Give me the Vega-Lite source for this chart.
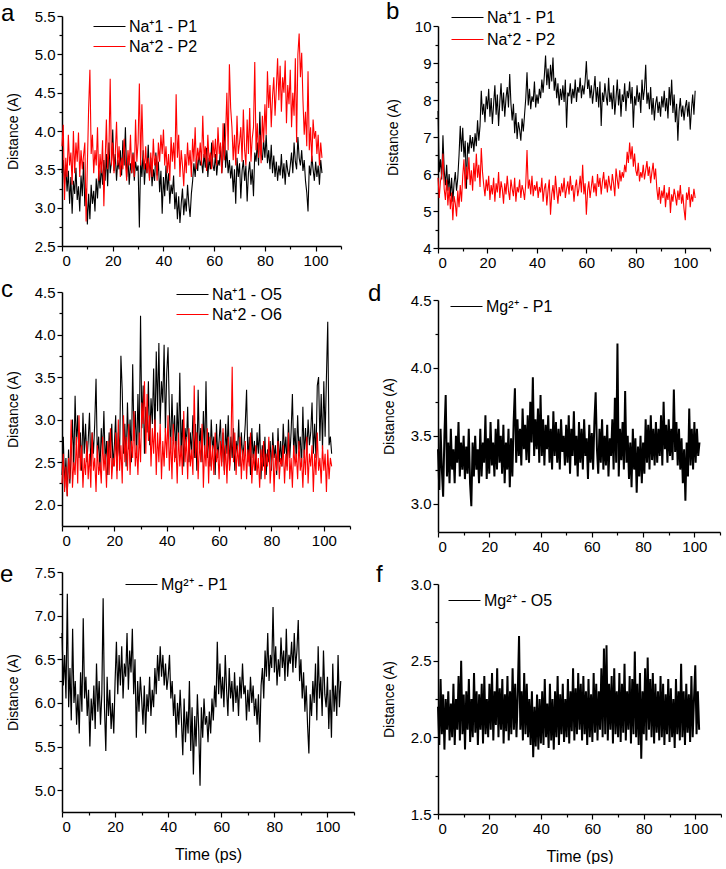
{
"$schema":"https://vega.github.io/schema/vega-lite/v6.json",
"padding":{"left":0,"top":0,"right":0,"bottom":0},
"config":{
 "font":"Liberation Sans",
 "view":{"stroke":null},
 "axis":{"grid":false,"domainColor":"#000","domainWidth":1.5,"tickColor":"#000","tickWidth":1.2,"labelColor":"#000","titleColor":"#000","labelFont":"Liberation Sans","titleFont":"Liberation Sans","labelFontSize":15,"titleFontWeight":"normal","labelPadding":2},
 "legend":{"symbolType":"M-2,0H2","symbolStrokeWidth":1,"symbolSize":256,"labelFontSize":16,"labelFont":"Liberation Sans","labelColor":"#000","padding":0,"rowPadding":3,"labelOffset":11},
 "title":{"anchor":"start","frame":"group","fontSize":24,"fontWeight":"normal","font":"Liberation Sans","color":"#000","offset":0,"baseline":"alphabetic"}
},
"datasets":{
"a1":[{"t":0,"d":3.45},{"t":0.5,"d":3.62},{"t":1,"d":3.30},{"t":1.5,"d":3.55},{"t":2,"d":3.21},{"t":2.5,"d":3.48},{"t":3,"d":3.05},{"t":3.5,"d":3.40},{"t":4,"d":2.92},{"t":4.5,"d":3.35},
{"t":5,"d":3.18},{"t":5.5,"d":3.52},{"t":6,"d":3.10},{"t":6.5,"d":3.28},{"t":7,"d":2.95},{"t":7.5,"d":3.42},{"t":8,"d":3.15},{"t":8.5,"d":3.60},{"t":9,"d":3.02},{"t":9.5,"d":3.25},
{"t":10,"d":2.78},{"t":10.5,"d":3.18},{"t":11,"d":2.85},{"t":11.5,"d":3.30},{"t":12,"d":3.05},{"t":12.5,"d":3.22},{"t":13,"d":2.95},{"t":13.5,"d":3.38},{"t":14,"d":3.12},{"t":14.5,"d":3.48},
{"t":15,"d":3.25},{"t":15.5,"d":3.55},{"t":16,"d":3.30},{"t":16.5,"d":3.62},{"t":17,"d":3.35},{"t":17.5,"d":3.70},{"t":18,"d":3.28},{"t":18.5,"d":3.85},{"t":19,"d":3.45},{"t":19.5,"d":3.60},
{"t":20,"d":4.02},{"t":20.5,"d":3.48},{"t":21,"d":3.70},{"t":21.5,"d":3.35},{"t":22,"d":3.62},{"t":22.5,"d":3.50},{"t":23,"d":3.75},{"t":23.5,"d":3.42},{"t":24,"d":3.88},{"t":24.5,"d":3.55},
{"t":25,"d":4.05},{"t":25.5,"d":3.40},{"t":26,"d":3.65},{"t":26.5,"d":3.30},{"t":27,"d":3.58},{"t":27.5,"d":3.45},{"t":28,"d":3.72},{"t":28.5,"d":3.35},{"t":29,"d":3.60},{"t":29.5,"d":3.48},
{"t":30,"d":3.55},{"t":30.5,"d":2.74},{"t":31,"d":3.62},{"t":31.5,"d":3.40},{"t":32,"d":3.75},{"t":32.5,"d":3.30},{"t":33,"d":3.58},{"t":33.5,"d":3.45},{"t":34,"d":3.82},{"t":34.5,"d":3.38},
{"t":35,"d":3.65},{"t":35.5,"d":3.28},{"t":36,"d":3.50},{"t":36.5,"d":3.35},{"t":37,"d":3.72},{"t":37.5,"d":3.42},{"t":38,"d":3.60},{"t":38.5,"d":3.20},{"t":39,"d":3.48},{"t":39.5,"d":2.92},
{"t":40,"d":3.40},{"t":40.5,"d":3.15},{"t":41,"d":3.55},{"t":41.5,"d":3.22},{"t":42,"d":3.45},{"t":42.5,"d":3.05},{"t":43,"d":3.30},{"t":43.5,"d":3.18},{"t":44,"d":3.42},{"t":44.5,"d":2.98},
{"t":45,"d":3.20},{"t":45.5,"d":2.85},{"t":46,"d":3.15},{"t":46.5,"d":2.80},{"t":47,"d":3.05},{"t":47.5,"d":3.25},{"t":48,"d":2.90},{"t":48.5,"d":3.12},{"t":49,"d":2.95},{"t":49.5,"d":3.30},
{"t":50,"d":3.05},{"t":50.5,"d":2.88},{"t":51,"d":3.18},{"t":51.5,"d":3.35},{"t":52,"d":3.58},{"t":52.5,"d":3.40},{"t":53,"d":3.65},{"t":53.5,"d":3.48},{"t":54,"d":3.72},{"t":54.5,"d":3.55},
{"t":55,"d":3.62},{"t":55.5,"d":3.45},{"t":56,"d":3.70},{"t":56.5,"d":3.52},{"t":57,"d":3.78},{"t":57.5,"d":3.40},{"t":58,"d":3.65},{"t":58.5,"d":3.50},{"t":59,"d":3.85},{"t":59.5,"d":3.55},
{"t":60,"d":3.48},{"t":60.5,"d":3.70},{"t":61,"d":3.42},{"t":61.5,"d":3.62},{"t":62,"d":3.55},{"t":62.5,"d":3.80},{"t":63,"d":3.45},{"t":63.5,"d":3.68},{"t":64,"d":4.10},{"t":64.5,"d":3.52},
{"t":65,"d":3.75},{"t":65.5,"d":3.45},{"t":66,"d":3.62},{"t":66.5,"d":3.38},{"t":67,"d":3.55},{"t":67.5,"d":3.20},{"t":68,"d":3.50},{"t":68.5,"d":3.05},{"t":69,"d":3.65},{"t":69.5,"d":3.40},
{"t":70,"d":3.58},{"t":70.5,"d":3.12},{"t":71,"d":3.48},{"t":71.5,"d":3.62},{"t":72,"d":3.35},{"t":72.5,"d":3.55},{"t":73,"d":3.08},{"t":73.5,"d":3.45},{"t":74,"d":3.60},{"t":74.5,"d":3.30},
{"t":75,"d":3.50},{"t":75.5,"d":3.15},{"t":76,"d":3.72},{"t":76.5,"d":3.60},{"t":77,"d":3.85},{"t":77.5,"d":3.55},{"t":78,"d":4.25},{"t":78.5,"d":3.70},{"t":79,"d":3.62},{"t":79.5,"d":3.88},
{"t":80,"d":3.65},{"t":80.5,"d":3.95},{"t":81,"d":3.58},{"t":81.5,"d":3.75},{"t":82,"d":3.50},{"t":82.5,"d":3.82},{"t":83,"d":3.45},{"t":83.5,"d":3.68},{"t":84,"d":3.40},{"t":84.5,"d":3.60},
{"t":85,"d":3.35},{"t":85.5,"d":3.55},{"t":86,"d":3.42},{"t":86.5,"d":3.70},{"t":87,"d":3.38},{"t":87.5,"d":3.58},{"t":88,"d":3.30},{"t":88.5,"d":3.62},{"t":89,"d":3.48},{"t":89.5,"d":3.40},
{"t":90,"d":3.55},{"t":90.5,"d":3.72},{"t":91,"d":3.45},{"t":91.5,"d":3.85},{"t":92,"d":3.60},{"t":92.5,"d":3.50},{"t":93,"d":3.92},{"t":93.5,"d":3.65},{"t":94,"d":3.55},{"t":94.5,"d":3.75},
{"t":95,"d":3.48},{"t":95.5,"d":3.62},{"t":96,"d":3.35},{"t":96.5,"d":3.20},{"t":97,"d":2.95},{"t":97.5,"d":3.55},{"t":98,"d":3.42},{"t":98.5,"d":3.68},{"t":99,"d":3.50},{"t":99.5,"d":3.35},
{"t":100,"d":3.60},{"t":100.5,"d":3.40},{"t":101,"d":3.55},{"t":101.5,"d":3.30},{"t":102,"d":3.62},{"t":102.5,"d":3.45}],
"a2":[{"t":0,"d":3.80},{"t":0.5,"d":4.08},{"t":1,"d":3.10},{"t":1.5,"d":3.65},{"t":2,"d":3.40},{"t":2.5,"d":3.95},{"t":3,"d":3.55},{"t":3.5,"d":3.72},{"t":4,"d":3.30},{"t":4.5,"d":4.00},
{"t":5,"d":3.45},{"t":5.5,"d":3.85},{"t":6,"d":3.60},{"t":6.5,"d":3.98},{"t":7,"d":3.40},{"t":7.5,"d":3.75},{"t":8,"d":3.50},{"t":8.5,"d":3.68},{"t":9,"d":3.85},{"t":9.5,"d":2.82},
{"t":10,"d":3.55},{"t":10.5,"d":4.30},{"t":11,"d":4.80},{"t":11.5,"d":3.70},{"t":12,"d":3.95},{"t":12.5,"d":3.45},{"t":13,"d":3.75},{"t":13.5,"d":3.55},{"t":14,"d":4.05},{"t":14.5,"d":3.35},
{"t":15,"d":3.70},{"t":15.5,"d":3.45},{"t":16,"d":3.88},{"t":16.5,"d":3.02},{"t":17,"d":3.60},{"t":17.5,"d":4.15},{"t":18,"d":3.50},{"t":18.5,"d":3.75},{"t":19,"d":4.68},{"t":19.5,"d":3.55},
{"t":20,"d":3.85},{"t":20.5,"d":3.45},{"t":21,"d":3.70},{"t":21.5,"d":4.12},{"t":22,"d":3.55},{"t":22.5,"d":3.80},{"t":23,"d":3.40},{"t":23.5,"d":3.65},{"t":24,"d":3.50},{"t":24.5,"d":3.90},
{"t":25,"d":3.60},{"t":25.5,"d":3.35},{"t":26,"d":3.75},{"t":26.5,"d":3.55},{"t":27,"d":3.95},{"t":27.5,"d":3.45},{"t":28,"d":3.70},{"t":28.5,"d":3.40},{"t":29,"d":4.15},{"t":29.5,"d":3.60},
{"t":30,"d":3.85},{"t":30.5,"d":4.62},{"t":31,"d":3.55},{"t":31.5,"d":4.35},{"t":32,"d":3.70},{"t":32.5,"d":3.50},{"t":33,"d":3.80},{"t":33.5,"d":3.45},{"t":34,"d":3.65},{"t":34.5,"d":3.35},
{"t":35,"d":3.72},{"t":35.5,"d":3.40},{"t":36,"d":3.90},{"t":36.5,"d":3.55},{"t":37,"d":3.68},{"t":37.5,"d":3.35},{"t":38,"d":3.85},{"t":38.5,"d":3.60},{"t":39,"d":3.95},{"t":39.5,"d":3.70},
{"t":40,"d":4.02},{"t":40.5,"d":3.55},{"t":41,"d":3.80},{"t":41.5,"d":3.45},{"t":42,"d":3.70},{"t":42.5,"d":3.35},{"t":43,"d":3.92},{"t":43.5,"d":3.60},{"t":44,"d":3.85},{"t":44.5,"d":3.50},
{"t":45,"d":4.48},{"t":45.5,"d":3.65},{"t":46,"d":3.95},{"t":46.5,"d":3.40},{"t":47,"d":3.75},{"t":47.5,"d":3.55},{"t":48,"d":3.28},{"t":48.5,"d":3.70},{"t":49,"d":3.45},{"t":49.5,"d":3.85},
{"t":50,"d":3.55},{"t":50.5,"d":3.75},{"t":51,"d":3.40},{"t":51.5,"d":3.90},{"t":52,"d":3.60},{"t":52.5,"d":4.05},{"t":53,"d":3.50},{"t":53.5,"d":3.78},{"t":54,"d":3.62},{"t":54.5,"d":3.85},
{"t":55,"d":3.55},{"t":55.5,"d":4.20},{"t":56,"d":3.65},{"t":56.5,"d":3.80},{"t":57,"d":3.48},{"t":57.5,"d":3.95},{"t":58,"d":3.60},{"t":58.5,"d":3.72},{"t":59,"d":3.50},{"t":59.5,"d":3.88},
{"t":60,"d":3.65},{"t":60.5,"d":3.90},{"t":61,"d":3.55},{"t":61.5,"d":4.05},{"t":62,"d":3.70},{"t":62.5,"d":3.85},{"t":63,"d":3.45},{"t":63.5,"d":4.10},{"t":64,"d":3.62},{"t":64.5,"d":3.95},
{"t":65,"d":4.50},{"t":65.5,"d":3.75},{"t":66,"d":4.87},{"t":66.5,"d":4.30},{"t":67,"d":4.05},{"t":67.5,"d":3.62},{"t":68,"d":3.95},{"t":68.5,"d":3.55},{"t":69,"d":4.20},{"t":69.5,"d":3.70},
{"t":70,"d":3.85},{"t":70.5,"d":4.05},{"t":71,"d":3.60},{"t":71.5,"d":4.28},{"t":72,"d":3.75},{"t":72.5,"d":3.55},{"t":73,"d":4.15},{"t":73.5,"d":3.70},{"t":74,"d":4.30},{"t":74.5,"d":3.60},
{"t":75,"d":3.90},{"t":75.5,"d":4.05},{"t":76,"d":4.90},{"t":76.5,"d":3.75},{"t":77,"d":4.10},{"t":77.5,"d":3.65},{"t":78,"d":3.95},{"t":78.5,"d":3.58},{"t":79,"d":4.20},{"t":79.5,"d":3.85},
{"t":80,"d":4.35},{"t":80.5,"d":3.95},{"t":81,"d":4.78},{"t":81.5,"d":4.30},{"t":82,"d":4.60},{"t":82.5,"d":4.05},{"t":83,"d":4.45},{"t":83.5,"d":4.70},{"t":84,"d":4.20},{"t":84.5,"d":4.55},
{"t":85,"d":4.95},{"t":85.5,"d":4.40},{"t":86,"d":4.85},{"t":86.5,"d":4.25},{"t":87,"d":4.70},{"t":87.5,"d":4.50},{"t":88,"d":4.92},{"t":88.5,"d":4.10},{"t":89,"d":4.60},{"t":89.5,"d":4.35},
{"t":90,"d":4.80},{"t":90.5,"d":4.05},{"t":91,"d":4.50},{"t":91.5,"d":4.20},{"t":92,"d":4.95},{"t":92.5,"d":3.85},{"t":93,"d":5.00},{"t":93.5,"d":5.27},{"t":94,"d":4.70},{"t":94.5,"d":5.02},
{"t":95,"d":4.40},{"t":95.5,"d":3.95},{"t":96,"d":4.25},{"t":96.5,"d":3.80},{"t":97,"d":4.78},{"t":97.5,"d":3.75},{"t":98,"d":4.05},{"t":98.5,"d":3.60},{"t":99,"d":4.15},{"t":99.5,"d":3.90},
{"t":100,"d":4.00},{"t":100.5,"d":3.70},{"t":101,"d":3.95},{"t":101.5,"d":3.55},{"t":102,"d":3.85},{"t":102.5,"d":3.65}],
"b1":[{"t":0,"d":7.70},{"t":0.5,"d":6.05},{"t":1,"d":6.40},{"t":1.5,"d":5.85},{"t":2,"d":7.05},{"t":2.5,"d":6.10},{"t":3,"d":5.70},{"t":3.5,"d":6.25},{"t":4,"d":5.55},{"t":4.5,"d":6.00},
{"t":5,"d":5.40},{"t":5.5,"d":5.90},{"t":6,"d":5.25},{"t":6.5,"d":5.75},{"t":7,"d":6.05},{"t":7.5,"d":5.55},{"t":8,"d":5.90},{"t":8.5,"d":6.50},{"t":9,"d":7.30},{"t":9.5,"d":6.60},
{"t":10,"d":7.25},{"t":10.5,"d":6.45},{"t":11,"d":6.90},{"t":11.5,"d":5.60},{"t":12,"d":6.85},{"t":12.5,"d":6.55},{"t":13,"d":7.05},{"t":13.5,"d":6.70},{"t":14,"d":7.00},{"t":14.5,"d":6.60},
{"t":15,"d":7.10},{"t":15.5,"d":6.75},{"t":16,"d":7.45},{"t":16.5,"d":6.90},{"t":17,"d":7.30},{"t":17.5,"d":8.25},{"t":18,"d":7.60},{"t":18.5,"d":7.90},{"t":19,"d":7.40},{"t":19.5,"d":8.10},
{"t":20,"d":7.75},{"t":20.5,"d":8.30},{"t":21,"d":7.55},{"t":21.5,"d":8.05},{"t":22,"d":7.35},{"t":22.5,"d":7.90},{"t":23,"d":8.40},{"t":23.5,"d":7.60},{"t":24,"d":8.15},{"t":24.5,"d":7.30},
{"t":25,"d":7.95},{"t":25.5,"d":8.45},{"t":26,"d":7.70},{"t":26.5,"d":8.20},{"t":27,"d":7.55},{"t":27.5,"d":8.05},{"t":28,"d":8.35},{"t":28.5,"d":7.80},{"t":29,"d":8.70},{"t":29.5,"d":7.90},
{"t":30,"d":7.45},{"t":30.5,"d":7.90},{"t":31,"d":7.10},{"t":31.5,"d":7.65},{"t":32,"d":6.95},{"t":32.5,"d":7.40},{"t":33,"d":7.20},{"t":33.5,"d":6.90},{"t":34,"d":7.50},{"t":34.5,"d":7.15},
{"t":35,"d":7.60},{"t":35.5,"d":8.05},{"t":36,"d":8.75},{"t":36.5,"d":7.85},{"t":37,"d":8.30},{"t":37.5,"d":7.75},{"t":38,"d":8.10},{"t":38.5,"d":7.95},{"t":39,"d":8.50},{"t":39.5,"d":7.80},
{"t":40,"d":8.15},{"t":40.5,"d":7.90},{"t":41,"d":8.30},{"t":41.5,"d":8.05},{"t":42,"d":8.55},{"t":42.5,"d":8.20},{"t":43,"d":8.65},{"t":43.5,"d":9.20},{"t":44,"d":8.40},{"t":44.5,"d":8.85},
{"t":45,"d":8.30},{"t":45.5,"d":8.95},{"t":46,"d":8.50},{"t":46.5,"d":9.15},{"t":47,"d":8.25},{"t":47.5,"d":8.60},{"t":48,"d":8.05},{"t":48.5,"d":8.45},{"t":49,"d":7.85},{"t":49.5,"d":8.30},
{"t":50,"d":8.00},{"t":50.5,"d":8.40},{"t":51,"d":7.95},{"t":51.5,"d":8.55},{"t":52,"d":7.25},{"t":52.5,"d":8.20},{"t":53,"d":8.10},{"t":53.5,"d":8.45},{"t":54,"d":7.90},{"t":54.5,"d":8.30},
{"t":55,"d":8.05},{"t":55.5,"d":8.55},{"t":56,"d":7.95},{"t":56.5,"d":8.35},{"t":57,"d":8.20},{"t":57.5,"d":8.60},{"t":58,"d":8.05},{"t":58.5,"d":8.40},{"t":59,"d":8.15},{"t":59.5,"d":8.50},
{"t":60,"d":9.05},{"t":60.5,"d":8.30},{"t":61,"d":8.55},{"t":61.5,"d":8.05},{"t":62,"d":8.40},{"t":62.5,"d":7.90},{"t":63,"d":8.25},{"t":63.5,"d":8.65},{"t":64,"d":7.95},{"t":64.5,"d":8.35},
{"t":65,"d":7.80},{"t":65.5,"d":8.50},{"t":66,"d":7.30},{"t":66.5,"d":8.20},{"t":67,"d":7.95},{"t":67.5,"d":8.45},{"t":68,"d":8.10},{"t":68.5,"d":7.85},{"t":69,"d":8.60},{"t":69.5,"d":7.95},
{"t":70,"d":8.20},{"t":70.5,"d":7.75},{"t":71,"d":8.40},{"t":71.5,"d":7.60},{"t":72,"d":8.05},{"t":72.5,"d":8.55},{"t":73,"d":7.85},{"t":73.5,"d":8.30},{"t":74,"d":7.55},{"t":74.5,"d":8.15},
{"t":75,"d":7.95},{"t":75.5,"d":8.45},{"t":76,"d":7.70},{"t":76.5,"d":8.25},{"t":77,"d":8.05},{"t":77.5,"d":8.50},{"t":78,"d":7.90},{"t":78.5,"d":8.35},{"t":79,"d":7.25},{"t":79.5,"d":8.10},
{"t":80,"d":7.85},{"t":80.5,"d":8.40},{"t":81,"d":7.95},{"t":81.5,"d":8.20},{"t":82,"d":7.65},{"t":82.5,"d":8.55},{"t":83,"d":8.00},{"t":83.5,"d":8.30},{"t":84,"d":8.95},{"t":84.5,"d":7.90},
{"t":85,"d":8.20},{"t":85.5,"d":7.75},{"t":86,"d":8.35},{"t":86.5,"d":7.60},{"t":87,"d":8.05},{"t":87.5,"d":7.45},{"t":88,"d":7.90},{"t":88.5,"d":8.10},{"t":89,"d":7.65},{"t":89.5,"d":7.95},
{"t":90,"d":7.55},{"t":90.5,"d":8.10},{"t":91,"d":7.80},{"t":91.5,"d":8.25},{"t":92,"d":7.70},{"t":92.5,"d":8.05},{"t":93,"d":7.50},{"t":93.5,"d":8.35},{"t":94,"d":7.85},{"t":94.5,"d":8.55},
{"t":95,"d":7.65},{"t":95.5,"d":8.15},{"t":96,"d":7.40},{"t":96.5,"d":7.90},{"t":97,"d":6.90},{"t":97.5,"d":7.70},{"t":98,"d":8.05},{"t":98.5,"d":7.55},{"t":99,"d":7.85},{"t":99.5,"d":7.45},
{"t":100,"d":7.80},{"t":100.5,"d":8.00},{"t":101,"d":7.55},{"t":101.5,"d":7.95},{"t":102,"d":7.20},{"t":102.5,"d":7.75},{"t":103,"d":8.15},{"t":103.5,"d":7.60},{"t":104,"d":8.25}],
"b2":[{"t":0,"d":5.90},{"t":0.5,"d":5.35},{"t":1,"d":5.80},{"t":1.5,"d":6.00},{"t":2,"d":6.55},{"t":2.5,"d":5.60},{"t":3,"d":5.30},{"t":3.5,"d":5.85},{"t":4,"d":5.15},{"t":4.5,"d":5.65},
{"t":5,"d":5.05},{"t":5.5,"d":5.50},{"t":6,"d":4.75},{"t":6.5,"d":5.40},{"t":7,"d":5.20},{"t":7.5,"d":4.85},{"t":8,"d":5.55},{"t":8.5,"d":5.10},{"t":9,"d":5.70},{"t":9.5,"d":5.25},
{"t":10,"d":5.95},{"t":10.5,"d":6.40},{"t":11,"d":5.60},{"t":11.5,"d":6.20},{"t":12,"d":5.85},{"t":12.5,"d":6.45},{"t":13,"d":5.70},{"t":13.5,"d":6.10},{"t":14,"d":5.55},{"t":14.5,"d":6.30},
{"t":15,"d":5.80},{"t":15.5,"d":6.55},{"t":16,"d":5.90},{"t":16.5,"d":6.25},{"t":17,"d":5.65},{"t":17.5,"d":6.70},{"t":18,"d":6.05},{"t":18.5,"d":5.70},{"t":19,"d":5.40},{"t":19.5,"d":5.85},
{"t":20,"d":5.55},{"t":20.5,"d":5.95},{"t":21,"d":5.30},{"t":21.5,"d":5.70},{"t":22,"d":5.45},{"t":22.5,"d":5.90},{"t":23,"d":5.25},{"t":23.5,"d":5.75},{"t":24,"d":5.50},{"t":24.5,"d":6.05},
{"t":25,"d":5.35},{"t":25.5,"d":5.80},{"t":26,"d":5.60},{"t":26.5,"d":5.20},{"t":27,"d":5.75},{"t":27.5,"d":5.45},{"t":28,"d":5.95},{"t":28.5,"d":5.55},{"t":29,"d":5.30},{"t":29.5,"d":5.85},
{"t":30,"d":5.60},{"t":30.5,"d":5.40},{"t":31,"d":5.90},{"t":31.5,"d":5.25},{"t":32,"d":5.65},{"t":32.5,"d":5.50},{"t":33,"d":5.85},{"t":33.5,"d":5.35},{"t":34,"d":5.70},{"t":34.5,"d":5.55},
{"t":35,"d":5.30},{"t":35.5,"d":5.75},{"t":36,"d":6.65},{"t":36.5,"d":5.60},{"t":37,"d":5.85},{"t":37.5,"d":5.45},{"t":38,"d":5.95},{"t":38.5,"d":5.40},{"t":39,"d":5.70},{"t":39.5,"d":5.55},
{"t":40,"d":5.80},{"t":40.5,"d":5.35},{"t":41,"d":5.65},{"t":41.5,"d":5.50},{"t":42,"d":5.90},{"t":42.5,"d":5.25},{"t":43,"d":5.60},{"t":43.5,"d":5.75},{"t":44,"d":5.15},{"t":44.5,"d":5.55},
{"t":45,"d":5.85},{"t":45.5,"d":4.90},{"t":46,"d":5.45},{"t":46.5,"d":5.70},{"t":47,"d":5.30},{"t":47.5,"d":5.95},{"t":48,"d":5.55},{"t":48.5,"d":5.20},{"t":49,"d":5.65},{"t":49.5,"d":5.40},
{"t":50,"d":5.75},{"t":50.5,"d":5.50},{"t":51,"d":5.90},{"t":51.5,"d":5.35},{"t":52,"d":5.60},{"t":52.5,"d":5.80},{"t":53,"d":5.45},{"t":53.5,"d":5.95},{"t":54,"d":5.55},{"t":54.5,"d":5.70},
{"t":55,"d":5.25},{"t":55.5,"d":5.65},{"t":56,"d":5.85},{"t":56.5,"d":5.40},{"t":57,"d":5.60},{"t":57.5,"d":5.95},{"t":58,"d":5.50},{"t":58.5,"d":6.25},{"t":59,"d":5.45},{"t":59.5,"d":5.75},
{"t":60,"d":4.90},{"t":60.5,"d":5.55},{"t":61,"d":5.80},{"t":61.5,"d":5.35},{"t":62,"d":5.65},{"t":62.5,"d":5.95},{"t":63,"d":5.50},{"t":63.5,"d":5.75},{"t":64,"d":5.40},{"t":64.5,"d":6.00},
{"t":65,"d":5.65},{"t":65.5,"d":5.90},{"t":66,"d":5.45},{"t":66.5,"d":5.80},{"t":67,"d":6.05},{"t":67.5,"d":5.60},{"t":68,"d":5.85},{"t":68.5,"d":5.50},{"t":69,"d":5.95},{"t":69.5,"d":5.70},
{"t":70,"d":5.55},{"t":70.5,"d":6.00},{"t":71,"d":5.75},{"t":71.5,"d":5.40},{"t":72,"d":6.15},{"t":72.5,"d":5.85},{"t":73,"d":5.60},{"t":73.5,"d":6.10},{"t":74,"d":5.80},{"t":74.5,"d":6.05},
{"t":75,"d":5.90},{"t":75.5,"d":6.25},{"t":76,"d":6.05},{"t":76.5,"d":6.60},{"t":77,"d":6.30},{"t":77.5,"d":6.85},{"t":78,"d":6.40},{"t":78.5,"d":6.75},{"t":79,"d":6.20},{"t":79.5,"d":6.55},
{"t":80,"d":6.10},{"t":80.5,"d":5.95},{"t":81,"d":6.30},{"t":81.5,"d":5.80},{"t":82,"d":6.05},{"t":82.5,"d":5.90},{"t":83,"d":6.25},{"t":83.5,"d":5.85},{"t":84,"d":6.10},{"t":84.5,"d":6.35},
{"t":85,"d":5.95},{"t":85.5,"d":6.20},{"t":86,"d":5.75},{"t":86.5,"d":6.05},{"t":87,"d":6.30},{"t":87.5,"d":5.85},{"t":88,"d":6.15},{"t":88.5,"d":5.60},{"t":89,"d":5.30},{"t":89.5,"d":5.65},
{"t":90,"d":5.20},{"t":90.5,"d":5.55},{"t":91,"d":5.35},{"t":91.5,"d":5.70},{"t":92,"d":5.10},{"t":92.5,"d":5.50},{"t":93,"d":5.30},{"t":93.5,"d":5.65},{"t":94,"d":4.95},{"t":94.5,"d":5.45},
{"t":95,"d":5.25},{"t":95.5,"d":5.60},{"t":96,"d":5.40},{"t":96.5,"d":5.15},{"t":97,"d":5.55},{"t":97.5,"d":5.30},{"t":98,"d":5.70},{"t":98.5,"d":5.20},{"t":99,"d":5.45},{"t":99.5,"d":5.05},
{"t":100,"d":4.75},{"t":100.5,"d":5.50},{"t":101,"d":5.30},{"t":101.5,"d":5.65},{"t":102,"d":5.10},{"t":102.5,"d":5.45},{"t":103,"d":5.25},{"t":103.5,"d":5.60},{"t":104,"d":5.35}],
"c1":[{"t":0,"d":2.35},{"t":0.5,"d":2.80},{"t":1,"d":2.20},{"t":1.5,"d":2.55},{"t":2,"d":2.10},{"t":2.5,"d":2.65},{"t":3,"d":2.25},{"t":3.5,"d":2.60},{"t":4,"d":3.00},{"t":4.5,"d":2.45},
{"t":5,"d":3.28},{"t":5.5,"d":2.70},{"t":6,"d":3.05},{"t":6.5,"d":2.55},{"t":7,"d":2.85},{"t":7.5,"d":2.40},{"t":8,"d":3.08},{"t":8.5,"d":2.60},{"t":9,"d":2.95},{"t":9.5,"d":2.50},
{"t":10,"d":2.75},{"t":10.5,"d":3.08},{"t":11,"d":2.45},{"t":11.5,"d":2.85},{"t":12,"d":2.60},{"t":12.5,"d":2.95},{"t":13,"d":3.48},{"t":13.5,"d":2.55},{"t":14,"d":2.80},{"t":14.5,"d":2.40},
{"t":15,"d":2.90},{"t":15.5,"d":2.60},{"t":16,"d":3.10},{"t":16.5,"d":2.50},{"t":17,"d":2.75},{"t":17.5,"d":2.35},{"t":18,"d":2.85},{"t":18.5,"d":2.55},{"t":19,"d":2.95},{"t":19.5,"d":2.45},
{"t":20,"d":2.70},{"t":20.5,"d":3.05},{"t":21,"d":2.40},{"t":21.5,"d":2.85},{"t":22,"d":2.55},{"t":22.5,"d":3.75},{"t":23,"d":3.35},{"t":23.5,"d":2.60},{"t":24,"d":2.95},{"t":24.5,"d":2.45},
{"t":25,"d":3.20},{"t":25.5,"d":2.65},{"t":26,"d":3.00},{"t":26.5,"d":2.50},{"t":27,"d":3.65},{"t":27.5,"d":2.75},{"t":28,"d":3.10},{"t":28.5,"d":2.55},{"t":29,"d":3.30},{"t":29.5,"d":2.70},
{"t":30,"d":4.22},{"t":30.5,"d":2.90},{"t":31,"d":3.40},{"t":31.5,"d":2.60},{"t":32,"d":3.15},{"t":32.5,"d":2.85},{"t":33,"d":3.45},{"t":33.5,"d":2.70},{"t":34,"d":3.25},{"t":34.5,"d":2.95},
{"t":35,"d":3.60},{"t":35.5,"d":2.80},{"t":36,"d":3.80},{"t":36.5,"d":3.10},{"t":37,"d":3.90},{"t":37.5,"d":2.95},{"t":38,"d":3.45},{"t":38.5,"d":3.20},{"t":39,"d":3.88},{"t":39.5,"d":2.85},
{"t":40,"d":3.55},{"t":40.5,"d":3.85},{"t":41,"d":3.10},{"t":41.5,"d":2.65},{"t":42,"d":3.30},{"t":42.5,"d":2.75},{"t":43,"d":3.05},{"t":43.5,"d":2.55},{"t":44,"d":3.20},{"t":44.5,"d":2.70},
{"t":45,"d":3.55},{"t":45.5,"d":2.60},{"t":46,"d":3.00},{"t":46.5,"d":2.45},{"t":47,"d":2.90},{"t":47.5,"d":2.70},{"t":48,"d":3.15},{"t":48.5,"d":2.50},{"t":49,"d":2.85},{"t":49.5,"d":2.60},
{"t":50,"d":3.05},{"t":50.5,"d":2.55},{"t":51,"d":2.95},{"t":51.5,"d":2.40},{"t":52,"d":3.35},{"t":52.5,"d":2.65},{"t":53,"d":2.90},{"t":53.5,"d":2.50},{"t":54,"d":3.10},{"t":54.5,"d":2.60},
{"t":55,"d":3.45},{"t":55.5,"d":2.55},{"t":56,"d":2.85},{"t":56.5,"d":2.45},{"t":57,"d":3.00},{"t":57.5,"d":2.65},{"t":58,"d":2.80},{"t":58.5,"d":2.35},{"t":59,"d":2.95},{"t":59.5,"d":2.55},
{"t":60,"d":2.75},{"t":60.5,"d":3.00},{"t":61,"d":2.50},{"t":61.5,"d":2.85},{"t":62,"d":2.40},{"t":62.5,"d":2.95},{"t":63,"d":2.60},{"t":63.5,"d":3.05},{"t":64,"d":2.45},{"t":64.5,"d":2.80},
{"t":65,"d":2.55},{"t":65.5,"d":2.90},{"t":66,"d":2.40},{"t":66.5,"d":2.75},{"t":67,"d":2.60},{"t":67.5,"d":3.00},{"t":68,"d":2.45},{"t":68.5,"d":2.85},{"t":69,"d":2.55},{"t":69.5,"d":2.70},
{"t":70,"d":2.95},{"t":70.5,"d":3.35},{"t":71,"d":2.50},{"t":71.5,"d":2.80},{"t":72,"d":2.35},{"t":72.5,"d":2.90},{"t":73,"d":2.55},{"t":73.5,"d":2.75},{"t":74,"d":2.40},{"t":74.5,"d":2.85},
{"t":75,"d":2.60},{"t":75.5,"d":2.95},{"t":76,"d":2.30},{"t":76.5,"d":2.70},{"t":77,"d":2.45},{"t":77.5,"d":2.80},{"t":78,"d":2.35},{"t":78.5,"d":2.65},{"t":79,"d":2.50},{"t":79.5,"d":2.75},
{"t":80,"d":2.40},{"t":80.5,"d":2.85},{"t":81,"d":2.55},{"t":81.5,"d":2.70},{"t":82,"d":2.35},{"t":82.5,"d":2.90},{"t":83,"d":2.50},{"t":83.5,"d":2.75},{"t":84,"d":2.45},{"t":84.5,"d":2.95},
{"t":85,"d":2.60},{"t":85.5,"d":2.80},{"t":86,"d":2.45},{"t":86.5,"d":3.00},{"t":87,"d":2.55},{"t":87.5,"d":2.85},{"t":88,"d":3.30},{"t":88.5,"d":2.60},{"t":89,"d":2.90},{"t":89.5,"d":2.50},
{"t":90,"d":3.05},{"t":90.5,"d":2.65},{"t":91,"d":2.80},{"t":91.5,"d":2.45},{"t":92,"d":3.15},{"t":92.5,"d":2.55},{"t":93,"d":2.90},{"t":93.5,"d":2.60},{"t":94,"d":3.00},{"t":94.5,"d":2.70},
{"t":95,"d":2.85},{"t":95.5,"d":3.20},{"t":96,"d":2.60},{"t":96.5,"d":2.95},{"t":97,"d":2.55},{"t":97.5,"d":3.40},{"t":98,"d":3.50},{"t":98.5,"d":2.75},{"t":99,"d":3.30},{"t":99.5,"d":2.65},
{"t":100,"d":3.45},{"t":100.5,"d":2.80},{"t":101,"d":3.50},{"t":101.5,"d":4.15},{"t":102,"d":2.70},{"t":102.5,"d":2.80},{"t":103,"d":2.60}],
"c2":[{"t":0,"d":2.25},{"t":0.5,"d":2.60},{"t":1,"d":2.15},{"t":1.5,"d":2.45},{"t":2,"d":2.10},{"t":2.5,"d":2.55},{"t":3,"d":2.30},{"t":3.5,"d":3.00},{"t":4,"d":2.20},{"t":4.5,"d":2.50},
{"t":5,"d":2.35},{"t":5.5,"d":2.80},{"t":6,"d":2.25},{"t":6.5,"d":3.05},{"t":7,"d":2.40},{"t":7.5,"d":2.70},{"t":8,"d":2.20},{"t":8.5,"d":2.55},{"t":9,"d":2.35},{"t":9.5,"d":2.75},
{"t":10,"d":2.30},{"t":10.5,"d":2.60},{"t":11,"d":2.20},{"t":11.5,"d":2.85},{"t":12,"d":2.40},{"t":12.5,"d":2.55},{"t":13,"d":2.15},{"t":13.5,"d":2.70},{"t":14,"d":2.35},{"t":14.5,"d":2.50},
{"t":15,"d":2.25},{"t":15.5,"d":2.80},{"t":16,"d":2.40},{"t":16.5,"d":2.60},{"t":17,"d":2.20},{"t":17.5,"d":2.75},{"t":18,"d":2.35},{"t":18.5,"d":2.90},{"t":19,"d":2.30},{"t":19.5,"d":2.55},
{"t":20,"d":2.45},{"t":20.5,"d":2.85},{"t":21,"d":2.30},{"t":21.5,"d":3.00},{"t":22,"d":2.40},{"t":22.5,"d":2.70},{"t":23,"d":2.25},{"t":23.5,"d":3.05},{"t":24,"d":2.50},{"t":24.5,"d":2.80},
{"t":25,"d":2.40},{"t":25.5,"d":2.95},{"t":26,"d":2.35},{"t":26.5,"d":2.75},{"t":27,"d":2.55},{"t":27.5,"d":3.10},{"t":28,"d":2.45},{"t":28.5,"d":2.70},{"t":29,"d":2.35},{"t":29.5,"d":2.85},
{"t":30,"d":2.50},{"t":30.5,"d":3.20},{"t":31,"d":2.95},{"t":31.5,"d":3.45},{"t":32,"d":2.60},{"t":32.5,"d":3.30},{"t":33,"d":2.75},{"t":33.5,"d":3.05},{"t":34,"d":2.45},{"t":34.5,"d":2.90},
{"t":35,"d":2.60},{"t":35.5,"d":3.00},{"t":36,"d":2.35},{"t":36.5,"d":2.85},{"t":37,"d":2.50},{"t":37.5,"d":2.95},{"t":38,"d":2.30},{"t":38.5,"d":2.75},{"t":39,"d":2.45},{"t":39.5,"d":2.90},
{"t":40,"d":2.55},{"t":40.5,"d":3.05},{"t":41,"d":2.40},{"t":41.5,"d":2.80},{"t":42,"d":2.30},{"t":42.5,"d":2.95},{"t":43,"d":2.50},{"t":43.5,"d":2.75},{"t":44,"d":2.25},{"t":44.5,"d":2.85},
{"t":45,"d":2.45},{"t":45.5,"d":2.70},{"t":46,"d":2.35},{"t":46.5,"d":3.10},{"t":47,"d":2.50},{"t":47.5,"d":2.80},{"t":48,"d":2.30},{"t":48.5,"d":2.90},{"t":49,"d":2.45},{"t":49.5,"d":2.65},
{"t":50,"d":2.35},{"t":50.5,"d":3.40},{"t":51,"d":2.55},{"t":51.5,"d":2.85},{"t":52,"d":2.30},{"t":52.5,"d":2.75},{"t":53,"d":2.50},{"t":53.5,"d":2.95},{"t":54,"d":2.20},{"t":54.5,"d":2.70},
{"t":55,"d":2.45},{"t":55.5,"d":2.90},{"t":56,"d":2.25},{"t":56.5,"d":2.80},{"t":57,"d":2.40},{"t":57.5,"d":2.70},{"t":58,"d":2.35},{"t":58.5,"d":2.85},{"t":59,"d":2.50},{"t":59.5,"d":2.65},
{"t":60,"d":2.30},{"t":60.5,"d":2.75},{"t":61,"d":2.45},{"t":61.5,"d":2.90},{"t":62,"d":2.35},{"t":62.5,"d":2.70},{"t":63,"d":2.25},{"t":63.5,"d":2.80},{"t":64,"d":2.40},{"t":64.5,"d":2.60},
{"t":65,"d":3.62},{"t":65.5,"d":2.50},{"t":66,"d":2.85},{"t":66.5,"d":2.35},{"t":67,"d":2.70},{"t":67.5,"d":2.45},{"t":68,"d":2.80},{"t":68.5,"d":2.30},{"t":69,"d":2.65},{"t":69.5,"d":2.40},
{"t":70,"d":2.75},{"t":70.5,"d":2.30},{"t":71,"d":2.65},{"t":71.5,"d":2.45},{"t":72,"d":2.85},{"t":72.5,"d":2.25},{"t":73,"d":2.60},{"t":73.5,"d":2.40},{"t":74,"d":2.70},{"t":74.5,"d":2.35},
{"t":75,"d":2.55},{"t":75.5,"d":2.20},{"t":76,"d":2.65},{"t":76.5,"d":2.40},{"t":77,"d":2.75},{"t":77.5,"d":2.30},{"t":78,"d":2.60},{"t":78.5,"d":2.45},{"t":79,"d":2.80},{"t":79.5,"d":2.25},
{"t":80,"d":2.50},{"t":80.5,"d":2.70},{"t":81,"d":2.15},{"t":81.5,"d":2.60},{"t":82,"d":2.40},{"t":82.5,"d":2.75},{"t":83,"d":2.30},{"t":83.5,"d":2.55},{"t":84,"d":2.45},{"t":84.5,"d":2.70},
{"t":85,"d":2.25},{"t":85.5,"d":2.60},{"t":86,"d":2.40},{"t":86.5,"d":2.85},{"t":87,"d":2.30},{"t":87.5,"d":2.55},{"t":88,"d":2.20},{"t":88.5,"d":2.70},{"t":89,"d":2.45},{"t":89.5,"d":2.60},
{"t":90,"d":2.30},{"t":90.5,"d":2.75},{"t":91,"d":2.40},{"t":91.5,"d":2.55},{"t":92,"d":2.20},{"t":92.5,"d":2.65},{"t":93,"d":2.35},{"t":93.5,"d":2.80},{"t":94,"d":2.25},{"t":94.5,"d":2.60},
{"t":95,"d":2.45},{"t":95.5,"d":2.70},{"t":96,"d":2.15},{"t":96.5,"d":2.60},{"t":97,"d":2.35},{"t":97.5,"d":2.85},{"t":98,"d":2.40},{"t":98.5,"d":2.55},{"t":99,"d":2.25},{"t":99.5,"d":2.70},
{"t":100,"d":2.40},{"t":100.5,"d":2.60},{"t":101,"d":2.15},{"t":101.5,"d":2.65},{"t":102,"d":2.30},{"t":102.5,"d":2.55},{"t":103,"d":2.45}],
"d1":[{"t":0,"d":3.40},{"t":0.5,"d":3.10},{"t":1,"d":3.55},{"t":1.5,"d":3.25},{"t":2,"d":3.05},{"t":2.5,"d":3.50},{"t":3,"d":3.80},{"t":3.5,"d":3.20},{"t":4,"d":3.45},{"t":4.5,"d":3.15},
{"t":5,"d":3.55},{"t":5.5,"d":3.25},{"t":6,"d":3.40},{"t":6.5,"d":3.15},{"t":7,"d":3.50},{"t":7.5,"d":3.30},{"t":8,"d":3.60},{"t":8.5,"d":3.20},{"t":9,"d":3.45},{"t":9.5,"d":3.25},
{"t":10,"d":3.50},{"t":10.5,"d":3.18},{"t":11,"d":3.42},{"t":11.5,"d":3.22},{"t":12,"d":3.55},{"t":12.5,"d":3.15},{"t":13,"d":2.98},{"t":13.5,"d":3.45},{"t":14,"d":3.20},{"t":14.5,"d":3.50},
{"t":15,"d":3.25},{"t":15.5,"d":3.40},{"t":16,"d":3.15},{"t":16.5,"d":3.55},{"t":17,"d":3.20},{"t":17.5,"d":3.45},{"t":18,"d":3.30},{"t":18.5,"d":3.65},{"t":19,"d":3.18},{"t":19.5,"d":3.48},
{"t":20,"d":3.22},{"t":20.5,"d":3.60},{"t":21,"d":3.28},{"t":21.5,"d":3.45},{"t":22,"d":3.20},{"t":22.5,"d":3.55},{"t":23,"d":3.25},{"t":23.5,"d":3.62},{"t":24,"d":3.30},{"t":24.5,"d":3.50},
{"t":25,"d":3.22},{"t":25.5,"d":3.58},{"t":26,"d":3.15},{"t":26.5,"d":3.45},{"t":27,"d":3.25},{"t":27.5,"d":3.55},{"t":28,"d":3.12},{"t":28.5,"d":3.48},{"t":29,"d":3.20},{"t":29.5,"d":3.60},
{"t":30,"d":3.85},{"t":30.5,"d":3.30},{"t":31,"d":3.62},{"t":31.5,"d":3.35},{"t":32,"d":3.55},{"t":32.5,"d":3.28},{"t":33,"d":3.70},{"t":33.5,"d":3.40},{"t":34,"d":3.58},{"t":34.5,"d":3.32},
{"t":35,"d":3.65},{"t":35.5,"d":3.30},{"t":36,"d":3.75},{"t":36.5,"d":3.45},{"t":37,"d":3.93},{"t":37.5,"d":3.35},{"t":38,"d":3.62},{"t":38.5,"d":3.40},{"t":39,"d":3.70},{"t":39.5,"d":3.30},
{"t":40,"d":3.80},{"t":40.5,"d":3.35},{"t":41,"d":3.62},{"t":41.5,"d":3.28},{"t":42,"d":3.58},{"t":42.5,"d":3.40},{"t":43,"d":3.65},{"t":43.5,"d":3.30},{"t":44,"d":3.55},{"t":44.5,"d":3.25},
{"t":45,"d":3.68},{"t":45.5,"d":3.35},{"t":46,"d":3.60},{"t":46.5,"d":3.30},{"t":47,"d":3.55},{"t":47.5,"d":3.25},{"t":48,"d":3.62},{"t":48.5,"d":3.38},{"t":49,"d":3.50},{"t":49.5,"d":3.28},
{"t":50,"d":3.58},{"t":50.5,"d":3.30},{"t":51,"d":3.65},{"t":51.5,"d":3.22},{"t":52,"d":3.55},{"t":52.5,"d":3.35},{"t":53,"d":3.68},{"t":53.5,"d":3.28},{"t":54,"d":3.50},{"t":54.5,"d":3.20},
{"t":55,"d":3.60},{"t":55.5,"d":3.30},{"t":56,"d":3.55},{"t":56.5,"d":3.25},{"t":57,"d":3.62},{"t":57.5,"d":3.35},{"t":58,"d":3.48},{"t":58.5,"d":3.18},{"t":59,"d":3.58},{"t":59.5,"d":3.30},
{"t":60,"d":3.52},{"t":60.5,"d":3.25},{"t":61,"d":3.60},{"t":61.5,"d":3.82},{"t":62,"d":3.40},{"t":62.5,"d":3.22},{"t":63,"d":3.55},{"t":63.5,"d":3.30},{"t":64,"d":3.62},{"t":64.5,"d":3.25},
{"t":65,"d":3.50},{"t":65.5,"d":3.28},{"t":66,"d":3.58},{"t":66.5,"d":3.20},{"t":67,"d":3.48},{"t":67.5,"d":3.35},{"t":68,"d":3.62},{"t":68.5,"d":3.25},{"t":69,"d":3.78},{"t":69.5,"d":3.30},
{"t":70,"d":4.18},{"t":70.5,"d":3.20},{"t":71,"d":3.55},{"t":71.5,"d":3.32},{"t":72,"d":3.60},{"t":72.5,"d":3.25},{"t":73,"d":3.83},{"t":73.5,"d":3.30},{"t":74,"d":3.50},{"t":74.5,"d":3.18},
{"t":75,"d":3.45},{"t":75.5,"d":3.12},{"t":76,"d":3.55},{"t":76.5,"d":3.25},{"t":77,"d":3.48},{"t":77.5,"d":3.08},{"t":78,"d":3.42},{"t":78.5,"d":3.20},{"t":79,"d":3.50},{"t":79.5,"d":3.15},
{"t":80,"d":3.45},{"t":80.5,"d":3.22},{"t":81,"d":3.62},{"t":81.5,"d":3.30},{"t":82,"d":3.58},{"t":82.5,"d":3.25},{"t":83,"d":3.65},{"t":83.5,"d":3.32},{"t":84,"d":3.55},{"t":84.5,"d":3.28},
{"t":85,"d":3.60},{"t":85.5,"d":3.30},{"t":86,"d":3.55},{"t":86.5,"d":3.35},{"t":87,"d":3.65},{"t":87.5,"d":3.28},{"t":88,"d":3.75},{"t":88.5,"d":3.40},{"t":89,"d":3.58},{"t":89.5,"d":3.30},
{"t":90,"d":3.62},{"t":90.5,"d":3.35},{"t":91,"d":3.55},{"t":91.5,"d":3.32},{"t":92,"d":3.84},{"t":92.5,"d":3.38},{"t":93,"d":3.60},{"t":93.5,"d":3.28},{"t":94,"d":3.55},{"t":94.5,"d":3.25},
{"t":95,"d":3.48},{"t":95.5,"d":3.15},{"t":96,"d":3.40},{"t":96.5,"d":3.02},{"t":97,"d":3.45},{"t":97.5,"d":3.20},{"t":98,"d":3.70},{"t":98.5,"d":3.28},{"t":99,"d":3.55},{"t":99.5,"d":3.25},
{"t":100,"d":3.60},{"t":100.5,"d":3.30},{"t":101,"d":3.55},{"t":101.5,"d":3.35},{"t":102,"d":3.45}],
"e1":[{"t":0,"d":6.80},{"t":0.5,"d":6.20},{"t":1,"d":6.55},{"t":1.5,"d":6.05},{"t":2,"d":7.25},{"t":2.5,"d":5.95},{"t":3,"d":6.40},{"t":3.5,"d":5.80},{"t":4,"d":6.85},{"t":4.5,"d":6.00},
{"t":5,"d":6.25},{"t":5.5,"d":5.75},{"t":6,"d":6.10},{"t":6.5,"d":5.65},{"t":7,"d":6.35},{"t":7.5,"d":5.90},{"t":8,"d":6.97},{"t":8.5,"d":6.05},{"t":9,"d":6.30},{"t":9.5,"d":5.85},
{"t":10,"d":6.15},{"t":10.5,"d":5.50},{"t":11,"d":6.05},{"t":11.5,"d":5.80},{"t":12,"d":6.20},{"t":12.5,"d":5.70},{"t":13,"d":6.45},{"t":13.5,"d":5.90},{"t":14,"d":6.25},{"t":14.5,"d":5.75},
{"t":15,"d":6.10},{"t":15.5,"d":7.20},{"t":16,"d":5.95},{"t":16.5,"d":5.45},{"t":17,"d":6.30},{"t":17.5,"d":5.85},{"t":18,"d":6.15},{"t":18.5,"d":5.70},{"t":19,"d":6.00},{"t":19.5,"d":5.65},
{"t":20,"d":6.25},{"t":20.5,"d":6.70},{"t":21,"d":6.10},{"t":21.5,"d":6.55},{"t":22,"d":6.20},{"t":22.5,"d":6.65},{"t":23,"d":6.05},{"t":23.5,"d":6.45},{"t":24,"d":6.30},{"t":24.5,"d":6.80},
{"t":25,"d":6.15},{"t":25.5,"d":6.60},{"t":26,"d":6.35},{"t":26.5,"d":6.85},{"t":27,"d":6.10},{"t":27.5,"d":6.50},{"t":28,"d":5.60},{"t":28.5,"d":6.25},{"t":29,"d":5.90},{"t":29.5,"d":6.30},
{"t":30,"d":6.05},{"t":30.5,"d":5.75},{"t":31,"d":6.20},{"t":31.5,"d":5.65},{"t":32,"d":6.10},{"t":32.5,"d":5.90},{"t":33,"d":6.30},{"t":33.5,"d":5.85},{"t":34,"d":6.15},{"t":34.5,"d":5.95},
{"t":35,"d":6.40},{"t":35.5,"d":6.10},{"t":36,"d":6.55},{"t":36.5,"d":6.25},{"t":37,"d":6.65},{"t":37.5,"d":6.30},{"t":38,"d":6.55},{"t":38.5,"d":6.20},{"t":39,"d":6.45},{"t":39.5,"d":6.15},
{"t":40,"d":6.30},{"t":40.5,"d":6.55},{"t":41,"d":6.05},{"t":41.5,"d":6.25},{"t":42,"d":5.85},{"t":42.5,"d":6.10},{"t":43,"d":5.60},{"t":43.5,"d":6.00},{"t":44,"d":5.75},{"t":44.5,"d":6.15},
{"t":45,"d":5.80},{"t":45.5,"d":5.40},{"t":46,"d":6.05},{"t":46.5,"d":5.55},{"t":47,"d":5.90},{"t":47.5,"d":5.65},{"t":48,"d":6.25},{"t":48.5,"d":5.45},{"t":49,"d":5.95},{"t":49.5,"d":5.18},
{"t":50,"d":5.85},{"t":50.5,"d":5.50},{"t":51,"d":6.10},{"t":51.5,"d":5.70},{"t":52,"d":5.05},{"t":52.5,"d":5.95},{"t":53,"d":5.60},{"t":53.5,"d":6.05},{"t":54,"d":5.75},{"t":54.5,"d":5.85},
{"t":55,"d":5.55},{"t":55.5,"d":5.90},{"t":56,"d":5.65},{"t":56.5,"d":6.05},{"t":57,"d":5.80},{"t":57.5,"d":6.20},{"t":58,"d":5.95},{"t":58.5,"d":6.70},{"t":59,"d":6.10},{"t":59.5,"d":6.45},
{"t":60,"d":6.05},{"t":60.5,"d":6.30},{"t":61,"d":5.95},{"t":61.5,"d":6.55},{"t":62,"d":6.15},{"t":62.5,"d":5.85},{"t":63,"d":6.40},{"t":63.5,"d":6.05},{"t":64,"d":6.25},{"t":64.5,"d":5.90},
{"t":65,"d":6.35},{"t":65.5,"d":6.00},{"t":66,"d":6.20},{"t":66.5,"d":5.85},{"t":67,"d":6.30},{"t":67.5,"d":6.05},{"t":68,"d":6.45},{"t":68.5,"d":6.10},{"t":69,"d":6.20},{"t":69.5,"d":5.80},
{"t":70,"d":6.15},{"t":70.5,"d":5.90},{"t":71,"d":6.30},{"t":71.5,"d":6.00},{"t":72,"d":6.20},{"t":72.5,"d":5.85},{"t":73,"d":6.05},{"t":73.5,"d":5.75},{"t":74,"d":6.10},{"t":74.5,"d":5.55},
{"t":75,"d":6.20},{"t":75.5,"d":6.40},{"t":76,"d":6.05},{"t":76.5,"d":6.60},{"t":77,"d":6.30},{"t":77.5,"d":6.80},{"t":78,"d":6.25},{"t":78.5,"d":6.55},{"t":79,"d":6.40},{"t":79.5,"d":7.10},
{"t":80,"d":6.35},{"t":80.5,"d":6.65},{"t":81,"d":6.20},{"t":81.5,"d":6.50},{"t":82,"d":6.30},{"t":82.5,"d":6.75},{"t":83,"d":6.40},{"t":83.5,"d":6.60},{"t":84,"d":6.25},{"t":84.5,"d":6.85},
{"t":85,"d":6.30},{"t":85.5,"d":6.55},{"t":86,"d":6.45},{"t":86.5,"d":6.70},{"t":87,"d":6.35},{"t":87.5,"d":6.80},{"t":88,"d":6.40},{"t":88.5,"d":6.60},{"t":89,"d":6.95},{"t":89.5,"d":6.25},
{"t":90,"d":6.50},{"t":90.5,"d":6.05},{"t":91,"d":6.35},{"t":91.5,"d":5.90},{"t":92,"d":6.20},{"t":92.5,"d":5.75},{"t":93,"d":5.42},{"t":93.5,"d":6.10},{"t":94,"d":5.85},{"t":94.5,"d":6.25},
{"t":95,"d":6.00},{"t":95.5,"d":6.45},{"t":96,"d":5.80},{"t":96.5,"d":6.65},{"t":97,"d":6.05},{"t":97.5,"d":6.30},{"t":98,"d":5.85},{"t":98.5,"d":6.60},{"t":99,"d":6.10},{"t":99.5,"d":5.95},
{"t":100,"d":6.30},{"t":100.5,"d":5.70},{"t":101,"d":6.15},{"t":101.5,"d":5.60},{"t":102,"d":6.45},{"t":102.5,"d":5.90},{"t":103,"d":6.20},{"t":103.5,"d":5.85},{"t":104,"d":6.55},{"t":104.5,"d":5.95},{"t":105,"d":6.25}],
"f1":[{"t":0,"d":2.20},{"t":0.5,"d":1.95},{"t":1,"d":2.38},{"t":1.5,"d":2.02},{"t":2,"d":2.28},{"t":2.5,"d":1.92},{"t":3,"d":2.25},{"t":3.5,"d":2.05},{"t":4,"d":2.30},{"t":4.5,"d":1.98},
{"t":5,"d":2.22},{"t":5.5,"d":2.00},{"t":6,"d":2.35},{"t":6.5,"d":1.95},{"t":7,"d":2.25},{"t":7.5,"d":2.05},{"t":8,"d":2.40},{"t":8.5,"d":1.98},{"t":9,"d":2.50},{"t":9.5,"d":2.02},
{"t":10,"d":2.28},{"t":10.5,"d":1.92},{"t":11,"d":2.30},{"t":11.5,"d":2.05},{"t":12,"d":2.38},{"t":12.5,"d":1.97},{"t":13,"d":2.25},{"t":13.5,"d":2.00},{"t":14,"d":2.42},{"t":14.5,"d":2.03},
{"t":15,"d":2.30},{"t":15.5,"d":1.95},{"t":16,"d":2.28},{"t":16.5,"d":2.05},{"t":17,"d":2.35},{"t":17.5,"d":1.96},{"t":18,"d":2.40},{"t":18.5,"d":2.02},{"t":19,"d":2.25},{"t":19.5,"d":2.00},
{"t":20,"d":2.35},{"t":20.5,"d":2.05},{"t":21,"d":2.42},{"t":21.5,"d":1.98},{"t":22,"d":2.30},{"t":22.5,"d":2.08},{"t":23,"d":2.45},{"t":23.5,"d":2.00},{"t":24,"d":2.32},{"t":24.5,"d":2.05},
{"t":25,"d":2.38},{"t":25.5,"d":1.96},{"t":26,"d":2.28},{"t":26.5,"d":2.04},{"t":27,"d":2.40},{"t":27.5,"d":1.98},{"t":28,"d":2.30},{"t":28.5,"d":2.02},{"t":29,"d":2.45},{"t":29.5,"d":2.05},
{"t":30,"d":2.35},{"t":30.5,"d":2.00},{"t":31,"d":2.28},{"t":31.5,"d":2.66},{"t":32,"d":2.05},{"t":32.5,"d":2.30},{"t":33,"d":1.98},{"t":33.5,"d":2.42},{"t":34,"d":2.02},{"t":34.5,"d":2.35},
{"t":35,"d":2.00},{"t":35.5,"d":2.25},{"t":36,"d":1.95},{"t":36.5,"d":2.30},{"t":37,"d":1.87},{"t":37.5,"d":2.20},{"t":38,"d":1.94},{"t":38.5,"d":2.28},{"t":39,"d":1.92},{"t":39.5,"d":2.25},
{"t":40,"d":1.96},{"t":40.5,"d":2.30},{"t":41,"d":1.95},{"t":41.5,"d":2.38},{"t":42,"d":2.00},{"t":42.5,"d":2.22},{"t":43,"d":1.93},{"t":43.5,"d":2.35},{"t":44,"d":1.98},{"t":44.5,"d":2.25},
{"t":45,"d":1.92},{"t":45.5,"d":2.30},{"t":46,"d":2.00},{"t":46.5,"d":2.40},{"t":47,"d":1.95},{"t":47.5,"d":2.28},{"t":48,"d":2.02},{"t":48.5,"d":2.35},{"t":49,"d":1.97},{"t":49.5,"d":2.25},
{"t":50,"d":2.00},{"t":50.5,"d":2.38},{"t":51,"d":1.96},{"t":51.5,"d":2.30},{"t":52,"d":2.04},{"t":52.5,"d":2.45},{"t":53,"d":1.98},{"t":53.5,"d":2.32},{"t":54,"d":2.02},{"t":54.5,"d":2.42},
{"t":55,"d":2.05},{"t":55.5,"d":2.35},{"t":56,"d":1.98},{"t":56.5,"d":2.40},{"t":57,"d":2.02},{"t":57.5,"d":2.30},{"t":58,"d":1.95},{"t":58.5,"d":2.38},{"t":59,"d":2.00},{"t":59.5,"d":2.28},
{"t":60,"d":1.97},{"t":60.5,"d":2.42},{"t":61,"d":2.03},{"t":61.5,"d":2.35},{"t":62,"d":1.98},{"t":62.5,"d":2.30},{"t":63,"d":2.05},{"t":63.5,"d":2.45},{"t":64,"d":2.00},{"t":64.5,"d":2.58},
{"t":65,"d":2.02},{"t":65.5,"d":2.60},{"t":66,"d":1.98},{"t":66.5,"d":2.35},{"t":67,"d":2.05},{"t":67.5,"d":2.40},{"t":68,"d":1.96},{"t":68.5,"d":2.45},{"t":69,"d":2.02},{"t":69.5,"d":2.30},
{"t":70,"d":2.00},{"t":70.5,"d":2.42},{"t":71,"d":1.97},{"t":71.5,"d":2.35},{"t":72,"d":2.03},{"t":72.5,"d":2.48},{"t":73,"d":1.98},{"t":73.5,"d":2.30},{"t":74,"d":2.05},{"t":74.5,"d":2.40},
{"t":75,"d":1.96},{"t":75.5,"d":2.38},{"t":76,"d":2.02},{"t":76.5,"d":2.56},{"t":77,"d":2.00},{"t":77.5,"d":2.35},{"t":78,"d":1.95},{"t":78.5,"d":2.42},{"t":79,"d":1.86},{"t":79.5,"d":2.30},
{"t":80,"d":2.02},{"t":80.5,"d":2.45},{"t":81,"d":1.98},{"t":81.5,"d":2.52},{"t":82,"d":2.05},{"t":82.5,"d":2.38},{"t":83,"d":2.00},{"t":83.5,"d":2.42},{"t":84,"d":1.96},{"t":84.5,"d":2.35},
{"t":85,"d":2.03},{"t":85.5,"d":2.30},{"t":86,"d":1.98},{"t":86.5,"d":2.40},{"t":87,"d":2.00},{"t":87.5,"d":2.35},{"t":88,"d":1.95},{"t":88.5,"d":2.28},{"t":89,"d":2.02},{"t":89.5,"d":2.38},
{"t":90,"d":1.97},{"t":90.5,"d":2.32},{"t":91,"d":2.00},{"t":91.5,"d":2.25},{"t":92,"d":1.93},{"t":92.5,"d":2.38},{"t":93,"d":2.02},{"t":93.5,"d":2.30},{"t":94,"d":1.98},{"t":94.5,"d":2.48},
{"t":95,"d":2.00},{"t":95.5,"d":2.30},{"t":96,"d":1.95},{"t":96.5,"d":2.35},{"t":97,"d":2.03},{"t":97.5,"d":2.28},{"t":98,"d":1.97},{"t":98.5,"d":2.40},{"t":99,"d":2.00},{"t":99.5,"d":2.25},
{"t":100,"d":2.47},{"t":100.5,"d":2.02},{"t":101,"d":2.30},{"t":101.5,"d":2.05}]
},
"columns":2,
"spacing":13,
"resolve":{"scale":{"color":"independent"},"legend":{"color":"independent"}},
"concat":[
{"vconcat":[
 {"width":279,"height":230,"title":{"text":"a","dx":-61,"dy":21},
  "encoding":{
   "x":{"field":"t","type":"quantitative","scale":{"domain":[0,110],"nice":false,"zero":false},"axis":{"title":null,"values":[0,10,20,30,40,50,60,70,80,90,100,110],"labelExpr":"datum.value % 20 === 0 ? datum.label : ''","tickSize":{"condition":{"test":"datum.value % 20 !== 0","value":3},"value":5}}},
   "y":{"field":"d","type":"quantitative","scale":{"domain":[2.5,5.5],"nice":false,"zero":false},"axis":{"title":"Distance (A)","titleFontSize":14,"titlePadding":14,"format":".1f","values":[2.5,2.75,3,3.25,3.5,3.75,4,4.25,4.5,4.75,5,5.25,5.5],"labelExpr":"abs(datum.value*2-round(datum.value*2))<0.001 ? datum.label : ''","tickSize":{"condition":{"test":"abs(datum.value*2-round(datum.value*2))>0.001","value":3},"value":5}}}
  },
  "layer":[
   {"data":{"name":"a1"},"mark":{"type":"line","strokeWidth":1.1},"encoding":{"color":{"datum":"Na⁺1 - P1","type":"nominal","scale":{"domain":["Na⁺1 - P1","Na⁺2 - P2"],"range":["#000000","#ff0000"]},"legend":{"title":null,"orient":"none","legendX":39,"legendY":2}}}},
   {"data":{"name":"a2"},"mark":{"type":"line","strokeWidth":1.1},"encoding":{"color":{"datum":"Na⁺2 - P2","type":"nominal"}}}
  ]},
 {"width":288,"height":234,"title":{"text":"c","dx":-61,"dy":21},
  "encoding":{
   "x":{"field":"t","type":"quantitative","scale":{"domain":[0,110],"nice":false,"zero":false},"axis":{"title":null,"values":[0,10,20,30,40,50,60,70,80,90,100,110],"labelExpr":"datum.value % 20 === 0 ? datum.label : ''","tickSize":{"condition":{"test":"datum.value % 20 !== 0","value":3},"value":5}}},
   "y":{"field":"d","type":"quantitative","scale":{"domain":[1.75,4.5],"nice":false,"zero":false},"axis":{"title":"Distance (A)","titleFontSize":14,"titlePadding":14,"format":".1f","values":[2,2.25,2.5,2.75,3,3.25,3.5,3.75,4,4.25,4.5],"labelExpr":"abs(datum.value*2-round(datum.value*2))<0.001 ? datum.label : ''","tickSize":{"condition":{"test":"abs(datum.value*2-round(datum.value*2))>0.001","value":3},"value":5}}}
  },
  "layer":[
   {"data":{"name":"c1"},"mark":{"type":"line","strokeWidth":1.1},"encoding":{"color":{"datum":"Na⁺1 - O5","type":"nominal","scale":{"domain":["Na⁺1 - O5","Na⁺2 - O6"],"range":["#000000","#ff0000"]},"legend":{"title":null,"orient":"none","legendX":122,"legendY":-6}}}},
   {"data":{"name":"c2"},"mark":{"type":"line","strokeWidth":1.1},"encoding":{"color":{"datum":"Na⁺2 - O6","type":"nominal"}}}
  ]},
 {"width":292,"height":240,"title":{"text":"e","dx":-62,"dy":26},
  "encoding":{
   "x":{"field":"t","type":"quantitative","scale":{"domain":[0,110],"nice":false,"zero":false},"axis":{"title":"Time (ps)","titleFontSize":16,"titlePadding":12,"values":[0,10,20,30,40,50,60,70,80,90,100,110],"labelExpr":"datum.value % 20 === 0 ? datum.label : ''","tickSize":{"condition":{"test":"datum.value % 20 !== 0","value":3},"value":5}}},
   "y":{"field":"d","type":"quantitative","scale":{"domain":[4.75,7.5],"nice":false,"zero":false},"axis":{"title":"Distance (A)","titleFontSize":14,"titlePadding":14,"format":".1f","values":[5,5.25,5.5,5.75,6,6.25,6.5,6.75,7,7.25,7.5],"labelExpr":"abs(datum.value*2-round(datum.value*2))<0.001 ? datum.label : ''","tickSize":{"condition":{"test":"abs(datum.value*2-round(datum.value*2))>0.001","value":3},"value":5}}}
  },
  "layer":[
   {"data":{"name":"e1"},"mark":{"type":"line","strokeWidth":1.2},"encoding":{"color":{"datum":"Mg²⁺ - P1","type":"nominal","scale":{"domain":["Mg²⁺ - P1"],"range":["#000000"]},"legend":{"title":null,"orient":"none","legendX":71,"legendY":4}}}}
  ]}
 ],"spacing":46,"bounds":"flush","resolve":{"scale":{"color":"independent"},"legend":{"color":"independent"}}},
{"vconcat":[
 {"width":272,"height":1,"data":{"values":[]},"mark":{"type":"rule","opacity":0},"encoding":{}},
 {"vconcat":[
 {"width":272,"height":222,"title":{"text":"b","dx":-52,"dy":19},
  "encoding":{
   "x":{"field":"t","type":"quantitative","scale":{"domain":[0,110],"nice":false,"zero":false},"axis":{"title":null,"values":[0,10,20,30,40,50,60,70,80,90,100,110],"labelExpr":"datum.value % 20 === 0 ? datum.label : ''","tickSize":{"condition":{"test":"datum.value % 20 !== 0","value":3},"value":5}}},
   "y":{"field":"d","type":"quantitative","scale":{"domain":[4,10],"nice":false,"zero":false},"axis":{"title":"Distance (A)","titleFontSize":14,"titlePadding":14,"format":".1f","values":[4,4.5,5,5.5,6,6.5,7,7.5,8,8.5,9,9.5,10],"labelExpr":"abs(datum.value-round(datum.value))<0.001 ? format(datum.value,'d') : ''","tickSize":{"condition":{"test":"abs(datum.value-round(datum.value))>0.001","value":3},"value":5}}}
  },
  "layer":[
   {"data":{"name":"b1"},"mark":{"type":"line","strokeWidth":1.1},"encoding":{"color":{"datum":"Na⁺1 - P1","type":"nominal","scale":{"domain":["Na⁺1 - P1","Na⁺2 - P2"],"range":["#000000","#ff0000"]},"legend":{"title":null,"orient":"none","legendX":21,"legendY":-17,"rowPadding":5}}}},
   {"data":{"name":"b2"},"mark":{"type":"line","strokeWidth":1.1},"encoding":{"color":{"datum":"Na⁺2 - P2","type":"nominal"}}}
  ]},
 {"width":282,"height":232,"title":{"text":"d","dx":-70,"dy":17},
  "encoding":{
   "x":{"field":"t","type":"quantitative","scale":{"domain":[0,110],"nice":false,"zero":false},"axis":{"title":null,"values":[0,10,20,30,40,50,60,70,80,90,100,110],"labelExpr":"datum.value % 20 === 0 ? datum.label : ''","tickSize":{"condition":{"test":"datum.value % 20 !== 0","value":3},"value":5}}},
   "y":{"field":"d","type":"quantitative","scale":{"domain":[2.79,4.5],"nice":false,"zero":false},"axis":{"title":"Distance (A)","titleFontSize":14,"titlePadding":14,"format":".1f","values":[3,3.25,3.5,3.75,4,4.25,4.5],"labelExpr":"abs(datum.value*2-round(datum.value*2))<0.001 ? datum.label : ''","tickSize":{"condition":{"test":"abs(datum.value*2-round(datum.value*2))>0.001","value":3},"value":5}}}
  },
  "layer":[
   {"data":{"name":"d1"},"mark":{"type":"line","strokeWidth":2},"encoding":{"color":{"datum":"Mg²⁺ - P1","type":"nominal","scale":{"domain":["Mg²⁺ - P1"],"range":["#000000"]},"legend":{"title":null,"orient":"none","legendX":20,"legendY":-2}}}}
  ]},
 {"width":283,"height":230,"title":{"text":"f","dx":-62,"dy":14},
  "encoding":{
   "x":{"field":"t","type":"quantitative","scale":{"domain":[0,110],"nice":false,"zero":false},"axis":{"title":"Time (ps)","titleFontSize":16,"titlePadding":12,"values":[0,10,20,30,40,50,60,70,80,90,100,110],"labelExpr":"datum.value % 20 === 0 ? datum.label : ''","tickSize":{"condition":{"test":"datum.value % 20 !== 0","value":3},"value":5}}},
   "y":{"field":"d","type":"quantitative","scale":{"domain":[1.5,3],"nice":false,"zero":false},"axis":{"title":"Distance (A)","titleFontSize":14,"titlePadding":14,"format":".1f","values":[1.5,1.75,2,2.25,2.5,2.75,3],"labelExpr":"abs(datum.value*2-round(datum.value*2))<0.001 ? datum.label : ''","tickSize":{"condition":{"test":"abs(datum.value*2-round(datum.value*2))>0.001","value":3},"value":5}}}
  },
  "layer":[
   {"data":{"name":"f1"},"mark":{"type":"line","strokeWidth":2},"encoding":{"color":{"datum":"Mg²⁺ - O5","type":"nominal","scale":{"domain":["Mg²⁺ - O5"],"range":["#000000"]},"legend":{"title":null,"orient":"none","legendX":18,"legendY":8}}}}
  ]}
 ],"spacing":52,"bounds":"flush","resolve":{"scale":{"color":"independent"},"legend":{"color":"independent"}}}
 ],"spacing":9,"bounds":"flush"}
]
}
